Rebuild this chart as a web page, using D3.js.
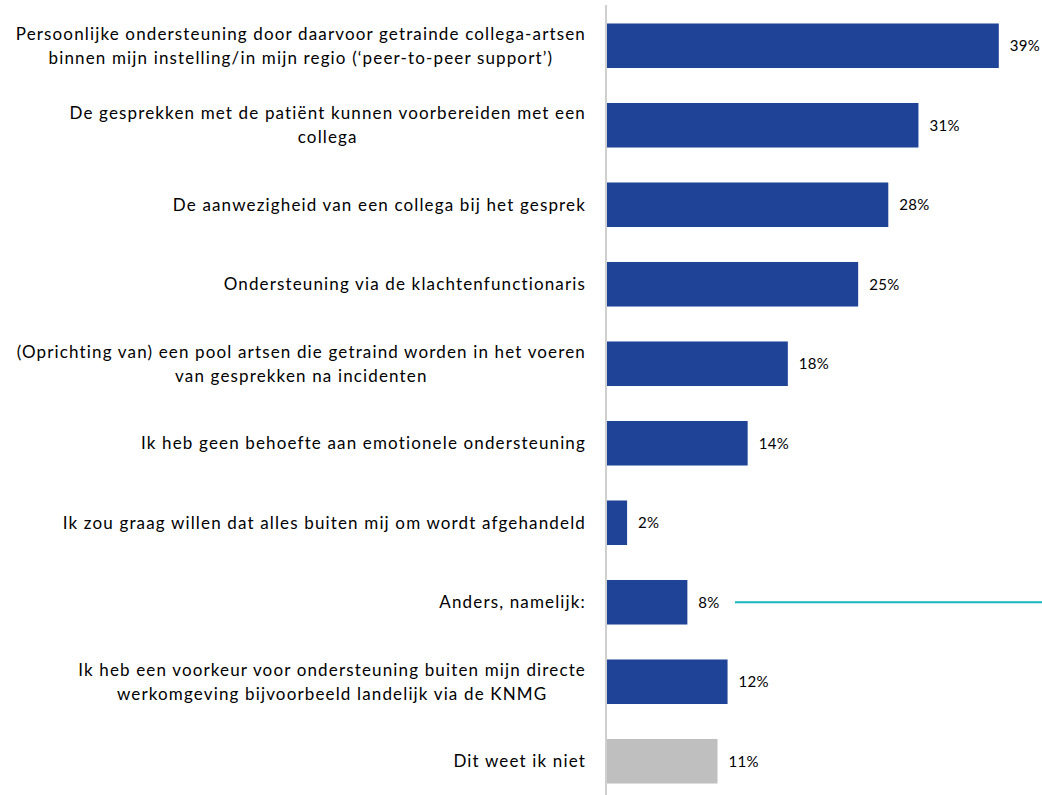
<!DOCTYPE html>
<html>
<head>
<meta charset="utf-8">
<script src="https://cdn.jsdelivr.net/npm/d3@7"></script>
<style>
  html, body { margin: 0; padding: 0; background: #fff; }
  svg { display: block; }
  text { font-family: Lato, "Open Sans", sans-serif; fill: #000; }
</style>
</head>
<body>
<svg id="chart" width="1042" height="795"></svg>
<script>
// Answer options (each entry holds the label's lines)
const categories = [
  ["Persoonlijke ondersteuning door daarvoor getrainde collega-artsen", "binnen mijn instelling/in mijn regio (\u2018peer-to-peer support\u2019)"],
  ["De gesprekken met de pati\u00EBnt kunnen voorbereiden met een", "collega"],
  ["De aanwezigheid van een collega bij het gesprek"],
  ["Ondersteuning via de klachtenfunctionaris"],
  ["(Oprichting van) een pool artsen die getraind worden in het voeren", "van gesprekken na incidenten"],
  ["Ik heb geen behoefte aan emotionele ondersteuning"],
  ["Ik zou graag willen dat alles buiten mij om wordt afgehandeld"],
  ["Anders, namelijk:"],
  ["Ik heb een voorkeur voor ondersteuning buiten mijn directe", "werkomgeving bijvoorbeeld landelijk via de KNMG"],
  ["Dit weet ik niet"]
];
// Share of respondents, in percent
const values = [39, 31, 28, 25, 18, 14, 2, 8, 12, 11];
// Which bars are drawn in the neutral colour
const neutral = [false, false, false, false, false, false, false, false, false, true];

const svg = d3.select("#chart");
const axisX = 606;

const x = d3.scaleLinear().domain([0, 43.3]).range([axisX + 1, 1042]);
const y = d3.scaleBand()
  .domain(d3.range(categories.length))
  .range([6, 801])
  .paddingInner(0.44)
  .paddingOuter(0.22);

// Bars
svg.append("g").selectAll("rect")
  .data(values)
  .join("rect")
  .attr("x", x(0))
  .attr("y", (d, i) => y(i))
  .attr("width", d => x(d) - x(0))
  .attr("height", y.bandwidth())
  .attr("fill", (d, i) => neutral[i] ? "#bfbfbf" : "#1f4397");

// Vertical category axis line
svg.append("line")
  .attr("x1", axisX).attr("x2", axisX)
  .attr("y1", 5).attr("y2", 795)
  .attr("stroke", "#bfbfbf").attr("stroke-width", 1.5);

// Value labels
svg.append("g").selectAll("text")
  .data(values)
  .join("text")
  .attr("x", d => x(d) + 11)
  .attr("y", (d, i) => y(i) + y.bandwidth() / 2)
  .attr("dy", "0.35em")
  .style("font-size", "15px")
  .style("letter-spacing", "0.3px")
  .text(d => d + "%");

// Category labels: block right-aligned to the axis, lines centred within the block
const labelRight = 586;
const lineGap = 24;
categories.forEach((lines, i) => {
  const cy = y(i) + y.bandwidth() / 2;
  const g = svg.append("g");
  const texts = lines.map((ln, j) =>
    g.append("text")
      .attr("y", cy + (j - (lines.length - 1) / 2) * lineGap)
      .attr("dy", "0.35em")
      .attr("text-anchor", "middle")
      .style("font-size", "17px")
      .style("letter-spacing", "1.15px")
      .text(ln)
  );
  const w = d3.max(texts, t => t.node().getComputedTextLength());
  texts.forEach(t => t.attr("x", labelRight - w / 2));
});

// Annotation line next to the "Anders" bar
const aIdx = 7;
svg.append("line")
  .attr("x1", 735).attr("x2", 1042)
  .attr("y1", y(aIdx) + y.bandwidth() / 2)
  .attr("y2", y(aIdx) + y.bandwidth() / 2)
  .attr("stroke", "#17b5bf").attr("stroke-width", 2);
</script>
</body>
</html>
